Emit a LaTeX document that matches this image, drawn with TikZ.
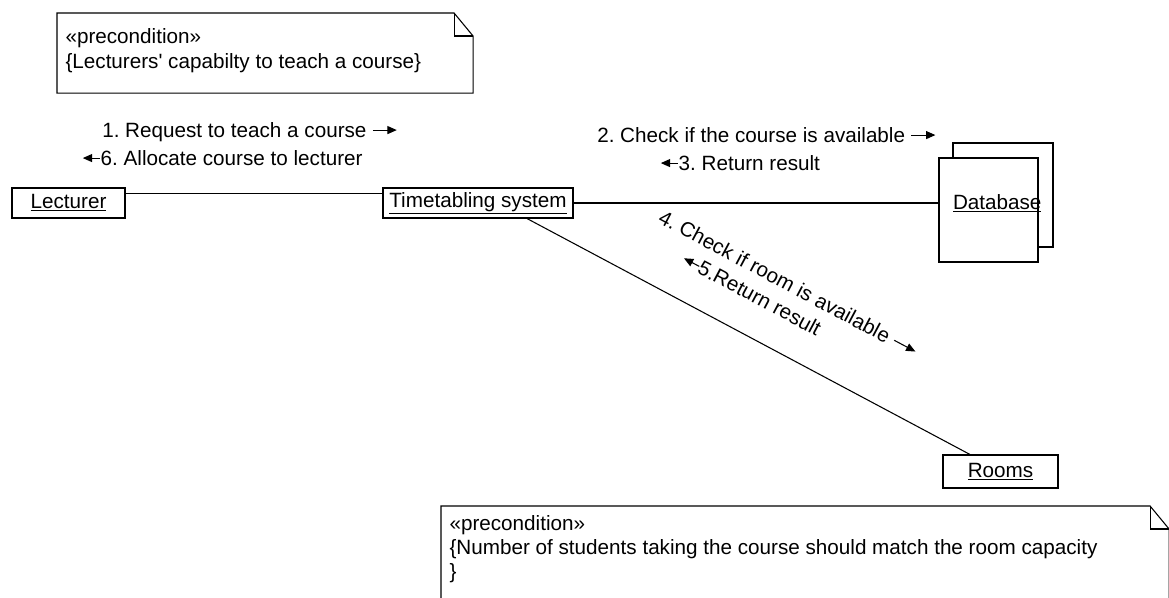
\documentclass[tikz,border=0pt]{standalone}
\usepackage{fontspec}
\newfontfamily\umlfont{Liberation Sans}
\usetikzlibrary{arrows.meta,calc}
\frenchspacing

% small message arrows set inline with the label text
\newcommand\msgright{\tikz[baseline=0pt]\draw[line width=0.8pt,-{Triangle[length=7pt,width=6pt]}] (0pt,5.2pt) -- (18pt,5.2pt);}
\newcommand\msgleft{\tikz[baseline=0pt]\draw[line width=0.8pt,{Triangle[length=7pt,width=6pt]}-] (0pt,5.2pt) -- (13pt,5.2pt);}

\begin{document}
\begin{tikzpicture}[x=0.75pt,y=-0.75pt,line width=0.8pt,
  font=\umlfont\fontsize{15.5pt}{18pt}\selectfont,
  obj/.style={draw,fill=white,inner sep=0pt,minimum height=22.5pt},
  txt/.style={inner sep=0pt,anchor=base west},
  notebox/.style={inner sep=0pt,anchor=north west,draw=none}]
\useasboundingbox (0,0) rectangle (1169,597);

% objects
\node[obj,minimum width=84.75pt] (lec) at (68.5,203) {\underline{Lecturer}};
\node[obj,minimum width=142.5pt] (ts) at (478,203) {\underline{Timetabling system}};
\node[obj,minimum width=86.25pt,minimum height=24.75pt] (rooms) at (1000.5,471.5) {\underline{Rooms}};

% database: stacked multi-object
\node[draw,fill=white,minimum width=75pt,minimum height=78pt,inner sep=0pt] (dbb) at (1003,195) {};
\node[draw,fill=white,minimum width=74.25pt,minimum height=78pt,inner sep=0pt] (dbf) at (988.5,210) {};
\node[inner sep=0pt,anchor=west] (dbt) at ([xshift=10.5pt,yshift=5.25pt]dbf.west) {\underline{Database}};

% links
\draw ([yshift=-4.5pt]lec.north east) -- ([yshift=-4.5pt]lec.north east -| ts.west);
\draw (ts.east) -- (ts.east -| dbf.west);
\draw ([xshift=36.75pt]ts.south) -- ([xshift=-22.9pt]rooms.north);

% messages
\node[txt] (m1) at (102,137) {1. Request to teach a course \msgright};
\node[txt] (m6) at (82,165) {\msgleft6. Allocate course to lecturer};
\node[txt] (m2) at (597,142) {2. Check if the course is available \msgright};
\node[txt] (m3) at (660,170) {\msgleft3. Return result};
\node[txt,rotate=-28] (m4) at (657,222) {4. Check if room is available \msgright};
\node[txt,rotate=-28] (m5) at (680,264) {\msgleft5.Return result};

% precondition notes
\node[notebox,minimum width=311.25pt,minimum height=59.25pt] (n1) at (57,13) {};
\draw (n1.north west) -- ([xshift=-14.25pt]n1.north east) -- ([yshift=-17.25pt]n1.north east)
  -- (n1.south east) -- (n1.south west) -- cycle;
\draw ([xshift=-14.25pt]n1.north east) |- ([yshift=-17.25pt]n1.north east);
\node[txt] (n1a) at (65,43) {«precondition»};
\node[txt] (n1b) at (65,68) {\{Lecturers' capabilty to teach a course\}};

\node[notebox,minimum width=545.25pt,minimum height=90pt] (n2) at (441,506) {};
\draw (n2.south west) -- (n2.north west) -- ([xshift=-14.25pt]n2.north east) -- ([yshift=-17.25pt]n2.north east)
  -- (n2.south east);
\draw ([xshift=-14.25pt]n2.north east) |- ([yshift=-17.25pt]n2.north east);
\node[txt] (n2a) at (449,530) {«precondition»};
\node[txt] (n2b) at (449,554) {\{Number of students taking the course should match the room capacity};
\node[txt] (n2c) at (449,578) {\}};
\end{tikzpicture}
\end{document}
